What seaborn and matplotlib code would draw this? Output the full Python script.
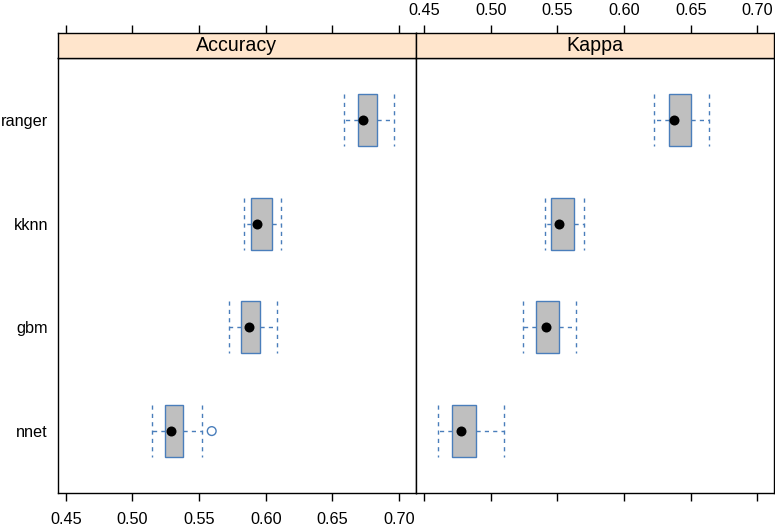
import matplotlib
matplotlib.use("Agg")
import matplotlib.pyplot as plt
import seaborn as sns
import pandas as pd

# ---- data (five-number summaries per model) ----
models = ["ranger", "kknn", "gbm", "nnet"]
metrics = ["Accuracy", "Kappa"]

acc_low = [0.6586, 0.5840, 0.5725, 0.5150]
acc_q1 = [0.6690, 0.5890, 0.5815, 0.5245]
acc_med = [0.6728, 0.5937, 0.5877, 0.5292]
acc_q3 = [0.6833, 0.6045, 0.5960, 0.5378]
acc_high = [0.6963, 0.6115, 0.6083, 0.5525]

kap_low = [0.6225, 0.5410, 0.5240, 0.4603]
kap_q1 = [0.6338, 0.5455, 0.5338, 0.4708]
kap_med = [0.6378, 0.5510, 0.5418, 0.4775]
kap_q3 = [0.6500, 0.5628, 0.5513, 0.4888]
kap_high = [0.6638, 0.5703, 0.5640, 0.5102]

outlier_metric = ["Accuracy"]
outlier_model = ["nnet"]
outlier_value = [0.5595]

tick_values = [0.45, 0.50, 0.55, 0.60, 0.65, 0.70]
tick_labels = ["0.45", "0.50", "0.55", "0.60", "0.65", "0.70"]

# ---- build tables ----
summ = {
    "Accuracy": [acc_low, acc_q1, acc_med, acc_q3, acc_high],
    "Kappa": [kap_low, kap_q1, kap_med, kap_q3, kap_high],
}
rows = []
med_rows = []
for metric in metrics:
    lo, q1, md, q3, hi = summ[metric]
    for j, m in enumerate(models):
        for v in (lo[j], q1[j], md[j], q3[j], hi[j]):
            rows.append({"metric": metric, "model": m, "value": v})
        med_rows.append({"metric": metric, "model": m, "value": md[j]})
df = pd.DataFrame(rows)
med_df = pd.DataFrame(med_rows)
out_df = pd.DataFrame({"metric": outlier_metric, "model": outlier_model,
                       "value": outlier_value})

# ---- style ----
plt.rcParams["font.family"] = ["Liberation Sans", "DejaVu Sans"]
BOX_FILL = "#bfbfbf"
BOX_EDGE = "#4a7ebb"
STRIP_BG = "#ffe5cc"

W, H = 775, 531
fig = plt.figure(figsize=(W / 100, H / 100), dpi=100)

panel_left = [57.7, 416.0]
panel_w = 358.3
p_top, p_bot = 57.7, 493.3
s_top = 33.3
xlim = (0.444, 0.7127)

dash = (0, (3, 3))

for i, metric in enumerate(metrics):
    left = panel_left[i]
    ax = fig.add_axes([left / W, (H - p_bot) / H, panel_w / W, (p_bot - p_top) / H])
    sax = fig.add_axes([left / W, (H - p_top) / H, panel_w / W, (p_top - s_top) / H],
                       sharex=ax)

    sub = df[df.metric == metric]
    sns.boxplot(data=sub, x="value", y="model", order=models, orient="y", ax=ax,
                whis=(0, 100), width=0.5, capwidths=0.5, color=BOX_FILL,
                saturation=1, linecolor=BOX_EDGE, linewidth=1.0, showfliers=False,
                medianprops=dict(visible=False),
                whiskerprops=dict(linestyle=dash, color=BOX_EDGE),
                capprops=dict(linestyle=dash, color=BOX_EDGE))

    sns.stripplot(data=med_df[med_df.metric == metric], x="value", y="model",
                  order=models, orient="y", jitter=False, color="black",
                  size=7.2, linewidth=0, ax=ax, zorder=5)

    osub = out_df[out_df.metric == metric]
    if len(osub):
        sns.stripplot(data=osub, x="value", y="model", order=models, orient="y",
                      jitter=False, size=6.3, facecolors="none",
                      edgecolor=BOX_EDGE, linewidth=1.0, ax=ax, zorder=5)

    ax.set_xlim(*xlim)
    ax.set_ylim(3.6, -0.6)
    ax.set_xlabel("")
    ax.set_ylabel("")
    ax.set_xticks(tick_values)
    ax.set_xticklabels(tick_labels)
    for sp in ax.spines.values():
        sp.set_color("black")
        sp.set_linewidth(1.0)
    ax.tick_params(axis="x", direction="out", length=6, width=1, pad=7.5,
                   labelsize=11.7, colors="black", bottom=True, top=False,
                   labelbottom=(i == 0), labeltop=False)
    if i == 0:
        ax.tick_params(axis="y", length=0, pad=7, labelsize=11.7, colors="black")
    else:
        ax.tick_params(axis="y", left=False, labelleft=False)

    sax.set_facecolor(STRIP_BG)
    sax.set_yticks([])
    for sp in sax.spines.values():
        sp.set_color("black")
        sp.set_linewidth(1.0)
    sax.tick_params(axis="x", direction="out", length=6, width=1, pad=4.8,
                    labelsize=11.7, colors="black", bottom=False, top=True,
                    labelbottom=False, labeltop=(i == 1))
    sax.text(0.5, 0.287, metric, transform=sax.transAxes, ha="center",
             va="baseline", fontsize=14.1, color="black")

fig.savefig("out.png", dpi=100)
